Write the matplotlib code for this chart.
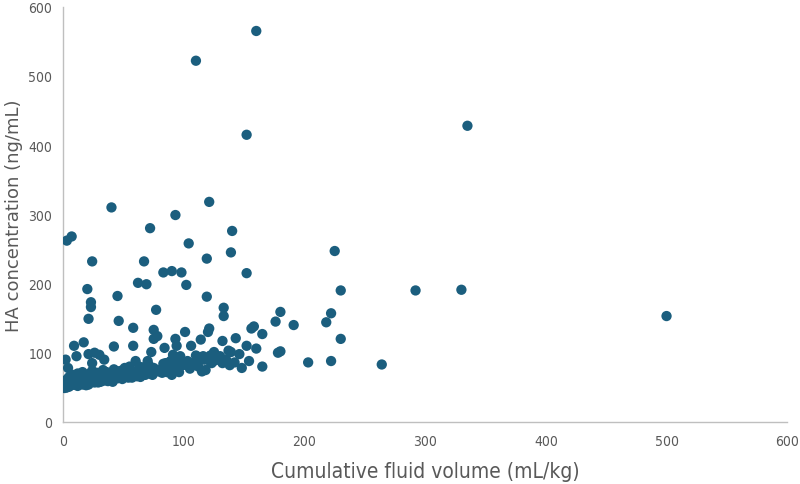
import matplotlib
matplotlib.use("Agg")
import matplotlib.pyplot as plt

# Cumulative fluid volume (mL/kg) and HA concentration (ng/mL)
volume = [
    160, 110, 152, 335, 500, 330, 292, 230, 225, 264, 222, 203,
    40, 93, 121, 140, 72, 3, 7, 24, 67, 104, 139, 119,
    83, 90, 98, 152, 62, 69, 102, 20, 45, 119, 23, 23,
    133, 77, 133, 21, 46, 58, 75, 156, 158, 165, 180, 222,
    218, 191, 176, 230, 178, 180, 160, 152, 143, 132, 120, 121,
    114, 101, 93, 78, 75, 58, 9, 42, 17, 84, 2, 11,
    26, 21, 30, 34, 24, 154, 148, 165, 138, 132, 137, 139,
    125, 122, 116, 106, 110, 113, 122, 106, 115, 118, 97, 91,
    89, 85, 94, 86, 90, 73, 70, 60, 68, 55, 4, 5,
    # dense cluster
    1, 2, 3, 4, 5, 6, 7, 8, 9, 10, 11, 12, 13, 14, 15, 16, 17, 18, 19, 20,
    21, 22, 23, 24, 25, 26, 27, 28, 29, 30, 31, 32, 33, 34, 35, 36, 37, 38, 39, 40,
    41, 42, 43, 44, 45, 46, 47, 48, 50, 52, 54, 56, 58, 60, 62, 64, 66, 68, 70, 72,
    2, 4, 6, 8, 10, 12, 14, 16, 18, 20, 22, 24, 26, 28, 30, 33, 36, 39, 42, 45,
    48, 51, 55, 59, 63, 67, 71, 75, 79, 83, 87, 91, 95, 99, 103, 108, 112, 117, 123, 128,
    3, 6, 9, 12, 15, 18, 21, 25, 29, 33, 37, 41, 44, 49, 53, 57, 61, 65, 69, 74,
    78, 82, 88, 92, 96, 100, 105, 109, 113, 126, 130, 135, 142, 146, 1, 5, 8, 13, 19, 27,
]
concentration = [
    565, 522, 415, 428, 153, 191, 190, 190, 247, 83, 88, 86,
    310, 299, 318, 276, 280, 262, 268, 232, 232, 258, 245, 236,
    216, 218, 216, 215, 201, 199, 198, 192, 182, 181, 173, 166,
    165, 162, 153, 149, 146, 136, 133, 135, 138, 127, 159, 157,
    144, 140, 145, 120, 100, 102, 106, 110, 121, 117, 130, 135,
    119, 130, 120, 124, 120, 110, 110, 109, 115, 107, 90, 95,
    100, 98, 97, 90, 85, 88, 78, 80, 82, 85, 103, 101,
    101, 96, 95, 110, 96, 90, 87, 81, 73, 75, 95, 97,
    88, 85, 110, 72, 68, 101, 88, 88, 80, 80, 78, 65,
    # dense cluster
    52, 55, 50, 58, 53, 60, 56, 62, 54, 57, 59, 55, 63, 58, 61, 54, 60, 57, 64, 59,
    56, 62, 58, 65, 60, 57, 63, 59, 66, 61, 58, 64, 62, 60, 67, 63, 59, 65, 68, 62,
    60, 66, 64, 70, 63, 67, 65, 69, 66, 68, 64, 70, 67, 72, 69, 65, 71, 68, 73, 70,
    60, 63, 66, 68, 62, 70, 65, 72, 68, 63, 70, 74, 67, 71, 69, 75, 72, 70, 76, 73,
    74, 78, 76, 72, 80, 75, 82, 78, 73, 84, 80, 76, 86, 82, 88, 85, 80, 90, 85, 92,
    50, 53, 57, 52, 56, 59, 54, 61, 57, 60, 63, 58, 65, 62, 67, 64, 66, 70, 73, 68,
    75, 71, 74, 79, 72, 83, 77, 86, 92, 89, 95, 90, 86, 98, 49, 51, 54, 57, 53, 58,
]

x_ticks = [0, 100, 200, 300, 400, 500, 600]
y_ticks = [0, 100, 200, 300, 400, 500, 600]

fig = plt.figure(figsize=(8, 4.85), dpi=100)
ax = fig.add_axes([0.079, 0.128, 0.905, 0.856])
ax.scatter(volume, concentration, s=55, color="#1B5E7E", edgecolors="none", zorder=3)

ax.set_xlim(0, 600)
ax.set_ylim(0, 600)
ax.set_xticks(x_ticks)
ax.set_yticks(y_ticks)
ax.tick_params(length=0, labelcolor="#595959")
ax.tick_params(axis="x", pad=9)
ax.tick_params(axis="y", pad=8)
for lab in ax.get_xticklabels() + ax.get_yticklabels():
    lab.set_fontstretch("condensed")
    lab.set_fontsize(10)
for s in ["top", "right"]:
    ax.spines[s].set_visible(False)
for s in ["left", "bottom"]:
    ax.spines[s].set_color("#BFBFBF")
    ax.spines[s].set_linewidth(1)

ax.set_xlabel("Cumulative fluid volume (mL/kg)", fontsize=15, color="#595959",
              fontstretch="condensed", labelpad=9)
ax.set_ylabel("HA concentration (ng/mL)", fontsize=13, color="#595959",
              va="center")
ax.yaxis.set_label_coords(-0.068, 0.5)

fig.savefig("out.png", dpi=100)
